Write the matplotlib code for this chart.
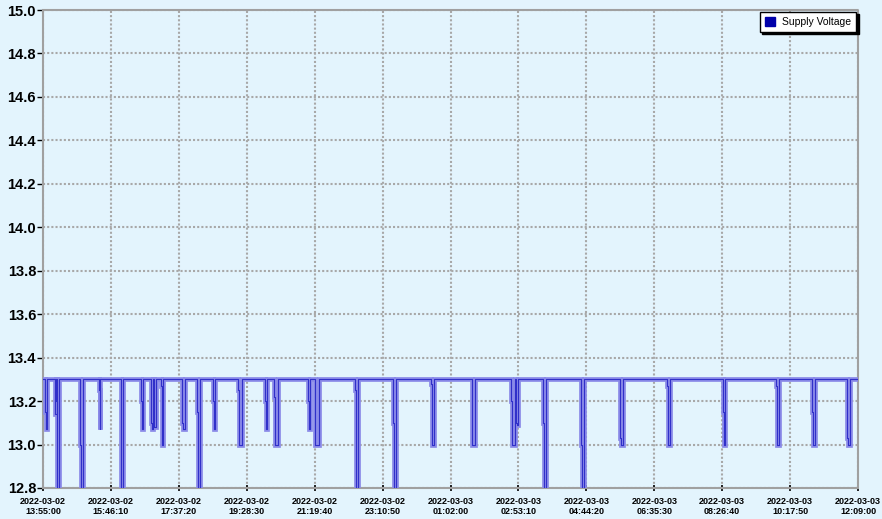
import datetime as dt

import matplotlib
matplotlib.use("agg")
import matplotlib.dates as mdates
import matplotlib.pyplot as plt
from matplotlib.patches import Patch

plt.rcParams["font.family"] = ["Liberation Sans", "DejaVu Sans"]

# time window of the log
start_time = dt.datetime(2022, 3, 2, 13, 55, 0)
tick_step_s = 6670
n_ticks = 13

base_voltage = 13.3
# dips: start (minutes after start), length (minutes),
# the level where the trace lingers first, and the lowest level reached
dip_start = [4, 19, 22, 61, 92, 127, 161, 177, 182, 193, 228, 252, 279, 319,
             364, 378, 434, 445, 511, 573, 635, 702, 766, 775, 819, 881, 945,
             1022, 1113, 1200, 1259, 1316]
dip_len = [3, 4, 5, 4, 2, 4, 3, 3, 3, 4, 4, 5, 2, 6, 2, 6, 3, 6, 4, 5, 5, 5,
           6, 2, 5, 4, 5, 4, 4, 5, 4, 5]
dip_mid = [13.15, 13.2, 13.2, 13.0, 13.25, 13.01, 13.2, 13.1, 13.08, 13.27,
           13.1, 13.15, 13.2, 13.25, 13.2, 13.22, 13.2, 13.1, 13.25, 13.1,
           13.28, 13.05, 13.2, 13.1, 13.1, 13.0, 13.03, 13.27, 13.15, 13.27,
           13.15, 13.03]
dip_low = [13.07, 13.14, 12.8, 12.8, 13.07, 12.8, 13.07, 13.07, 13.08, 13.0,
           13.07, 12.8, 13.07, 13.0, 13.07, 13.0, 13.07, 13.0, 12.8, 12.8,
           13.0, 13.0, 13.0, 13.09, 12.8, 12.8, 13.0, 13.0, 13.0, 13.0, 13.0,
           13.0]

end_min = (n_ticks - 1) * tick_step_s / 60

# build the trace
mins = [0]
volts = [base_voltage]
for s, ln, mid, low in zip(dip_start, dip_len, dip_mid, dip_low):
    mins += [s, s, s + 1, s + 1, s + ln, s + ln]
    volts += [base_voltage, mid, mid, low, low, base_voltage]
mins.append(end_min)
volts.append(base_voltage)
times = [start_time + dt.timedelta(minutes=m) for m in mins]

bg = "#e3f4fd"
fig = plt.figure(figsize=(8.82, 5.19), dpi=100, facecolor=bg)
ax = fig.add_axes([43 / 882, 31 / 519, 815 / 882, 478 / 519], facecolor=bg)

ax.plot(times, volts, color="#8a8ae8", lw=3.4, solid_joinstyle="miter", zorder=3)
ax.plot(times, volts, color="#2020c4", lw=0.8, alpha=0.85, zorder=4)

ax.set_ylim(12.8, 15.0)
ax.set_xlim(start_time, start_time + dt.timedelta(minutes=end_min))
ax.set_yticks([12.8 + 0.2 * i for i in range(12)])
ax.yaxis.set_major_formatter(matplotlib.ticker.FormatStrFormatter("%.1f"))
ax.set_xticks([start_time + dt.timedelta(seconds=tick_step_s * i) for i in range(n_ticks)])
ax.xaxis.set_major_formatter(mdates.DateFormatter("%Y-%m-%d\n%H:%M:%S"))

for lab in ax.get_yticklabels():
    lab.set_fontsize(10.5)
    lab.set_fontweight("bold")
for lab in ax.get_xticklabels():
    lab.set_fontsize(6.5)
    lab.set_fontweight("bold")
    lab.set_linespacing(1.1)

ax.tick_params(axis="y", direction="out", length=4, width=1, color="black", pad=1)
ax.tick_params(axis="x", direction="inout", length=5, width=1.2, color="black", pad=4)

ax.grid(True, color="#a8a8a8", linestyle=(0, (1, 1)), lw=1.5, zorder=1)
for sp in ax.spines.values():
    sp.set_color("#a0a0a0")
    sp.set_linestyle((0, (1, 1)))
    sp.set_linewidth(1.5)

handle = Patch(facecolor="#0000aa", edgecolor="#0000aa", label="Supply Voltage")
leg = ax.legend(handles=[handle], loc="upper right", fontsize=7.5, frameon=True,
                fancybox=False, shadow={"color": "black", "alpha": 1, "ox": 1.5, "oy": -1.5},
                borderaxespad=0.15, handlelength=0.9, handleheight=0.9,
                handletextpad=0.7, borderpad=0.5)
leg.get_frame().set_edgecolor("black")
leg.get_frame().set_linewidth(1)
leg.get_frame().set_facecolor("white")

fig.savefig("out.png", dpi=100, facecolor=bg)
